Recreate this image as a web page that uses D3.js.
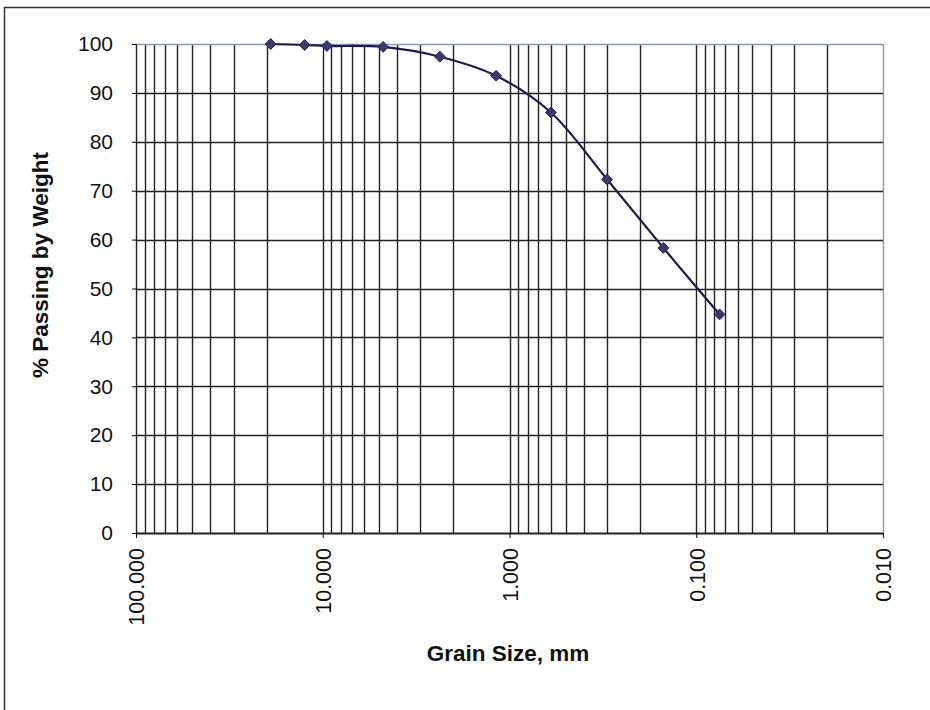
<!DOCTYPE html>
<html>
<head>
<meta charset="utf-8">
<script src="https://cdn.jsdelivr.net/npm/d3@7"></script>
<style>
  body { margin: 0; background: #fff; }
  svg { display: block; font-family: "Liberation Sans", Arial, sans-serif; }
</style>
</head>
<body>
<svg id="chart"></svg>
<script>
//Sieve data: grain size (mm) and % passing
const grainSize = [19.0, 12.5, 9.5, 4.75, 2.36, 1.18, 0.6, 0.3, 0.15, 0.075];
const passing = [100, 99.8, 99.6, 99.4, 97.4, 93.5, 86.0, 72.3, 58.3, 44.7];

//Axis ticks
const xTicks = [100, 10, 1, 0.1, 0.01];
const yTicks = [0, 10, 20, 30, 40, 50, 60, 70, 80, 90, 100];

const width = 930;
const height = 710;

const plotLeft = 136, plotRight = 883;
const plotTop = 44, plotBottom = 533;

const data = grainSize.map((d, i) => ({size: d, pass: passing[i]}));

//Scales
const scaleX = d3.scaleLog()
    .domain([100, 0.01])
    .range([plotLeft, plotRight]);

const scaleY = d3.scaleLinear()
    .domain([0, 100])
    .range([plotBottom, plotTop]);

const svg = d3.select("#chart")
    .attr("width", width)
    .attr("height", height);

//Outer frame
svg.append("rect")
    .attr("x", 4.5)
    .attr("y", 7.5)
    .attr("width", 940)
    .attr("height", 720)
    .attr("fill", "none")
    .attr("stroke", "#333")
    .attr("stroke-width", 1.5);

//Vertical grid lines at every log step
const vGrid = [];
[0.01, 0.1, 1, 10].forEach(dec => {
    for (let m = 1; m <= 9; m++) vGrid.push(+(m * dec).toPrecision(3));
});
vGrid.push(100);

svg.append("g")
    .selectAll("line")
    .data(vGrid)
    .enter()
    .append("line")
    .attr("x1", d => Math.round(scaleX(d)) + 0.5)
    .attr("x2", d => Math.round(scaleX(d)) + 0.5)
    .attr("y1", plotTop)
    .attr("y2", plotBottom)
    .attr("stroke", d => d === 0.01 ? "#999" : "#222")
    .attr("stroke-width", 1.4);

//Horizontal grid lines
svg.append("g")
    .selectAll("line")
    .data(yTicks)
    .enter()
    .append("line")
    .attr("x1", plotLeft)
    .attr("x2", plotRight)
    .attr("y1", d => Math.round(scaleY(d)) + 0.5)
    .attr("y2", d => Math.round(scaleY(d)) + 0.5)
    .attr("stroke", d => d === 100 ? "#8a93b8" : "#222")
    .attr("stroke-width", d => d === 0 ? 2 : 1.4);

//Left axis
svg.append("g")
    .attr("transform", "translate(" + plotLeft + ",0)")
    .call(d3.axisLeft(scaleY).tickValues(yTicks).tickSize(4).tickPadding(19).tickFormat(d3.format("d")))
    .call(g => g.select(".domain").attr("stroke", "#222"))
    .call(g => g.selectAll("text").style("font-size", "21px").attr("fill", "#111"));

//Bottom axis
const xAxis = svg.append("g")
    .attr("transform", "translate(0," + plotBottom + ")")
    .call(d3.axisBottom(scaleX).tickValues(xTicks).tickSize(5).tickFormat(d3.format(".3f")));
xAxis.select(".domain").remove();
xAxis.selectAll("text")
    .style("font-size", "21.5px")
    .attr("fill", "#111")
    .attr("text-anchor", "end")
    .attr("transform", "rotate(-90)")
    .attr("x", -15)
    .attr("y", 0)
    .attr("dy", "0.36em");

//Axis titles
svg.append("text")
    .attr("x", 508)
    .attr("y", 661)
    .attr("text-anchor", "middle")
    .style("font-size", "22.5px")
    .style("font-weight", "bold")
    .attr("fill", "#111")
    .text("Grain Size, mm");

svg.append("text")
    .attr("text-anchor", "middle")
    .attr("transform", "translate(48,265)rotate(-90)")
    .style("font-size", "22.5px")
    .style("font-weight", "bold")
    .attr("fill", "#111")
    .text("% Passing by Weight");

//Gradation curve
const line = d3.line()
    .x(d => scaleX(d.size))
    .y(d => scaleY(d.pass))
    .curve(d3.curveCatmullRom);

svg.append("path")
    .datum(data)
    .attr("d", line)
    .attr("fill", "none")
    .attr("stroke", "#1c1c50")
    .attr("stroke-width", 2.2);

svg.append("g")
    .selectAll("path")
    .data(data)
    .enter()
    .append("path")
    .attr("d", d3.symbol(d3.symbolDiamond2, 75))
    .attr("transform", d => "translate(" + scaleX(d.size) + "," + scaleY(d.pass) + ")")
    .attr("fill", "#3a3a70")
    .attr("stroke", "#22224a")
    .attr("stroke-width", 1);
</script>
</body>
</html>
